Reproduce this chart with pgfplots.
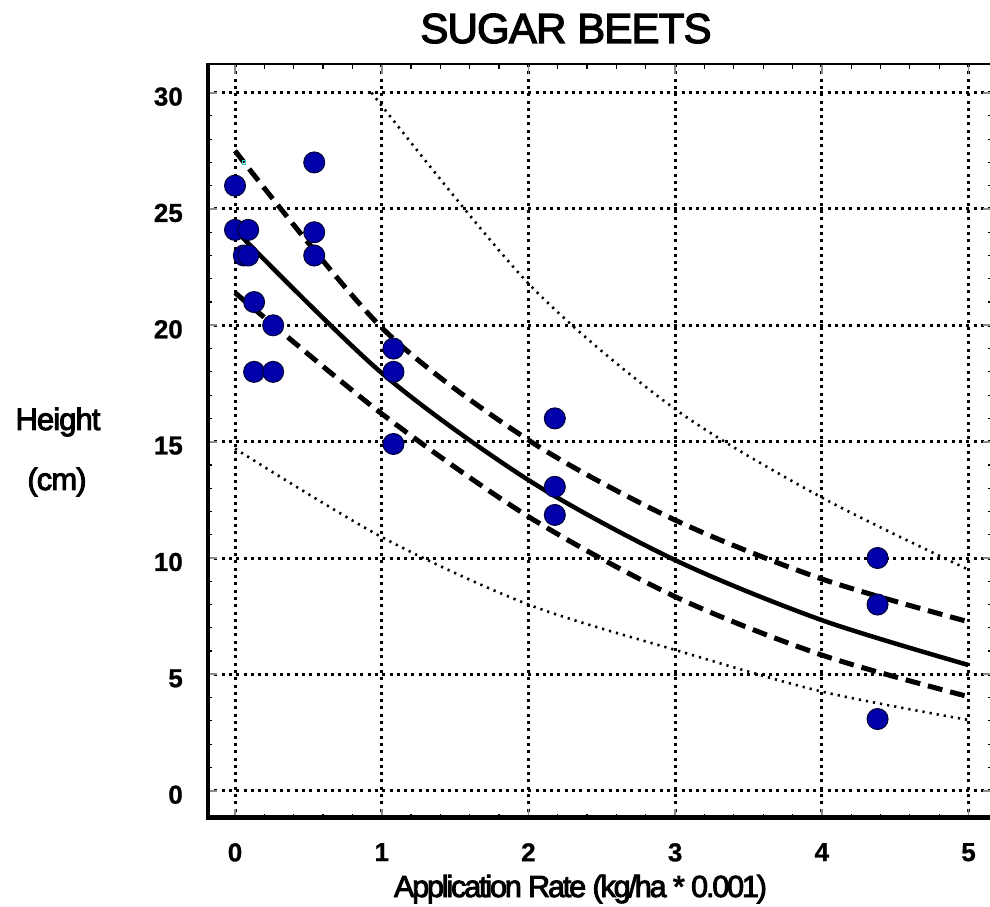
\documentclass[border=0pt]{standalone}
\usepackage{pgfplots}
\pgfplotsset{compat=1.18}
\usepackage{fontspec}
\setmainfont{Liberation Sans}
\newfontfamily\heavyfont[FakeBold=3]{Liberation Sans}
\newfontfamily\tickfont[FakeBold=0.8]{Liberation Sans Bold}

\definecolor{dotblue}{RGB}{0,0,170}
\definecolor{edgeblue}{RGB}{0,0,50}
\definecolor{tickgray}{RGB}{140,140,140}
\definecolor{oddcyan}{RGB}{60,200,200}

\begin{document}
\begin{tikzpicture}
\begin{axis}[
  at={(0pt,0pt)}, anchor=south west,
  scale only axis, width=786pt, height=755pt,
  xmin=-0.191, xmax=5.167, ymin=-1.216, ymax=31.23,
  xtick={0,1,2,3,4,5}, ytick={0,5,10,15,20,25,30},
  minor x tick num=4, minor y tick num=4,
  tick align=inside,
  major tick length=10pt, minor tick length=5pt,
  every major tick/.style={tickgray, line width=1.8pt},
  every minor tick/.style={black, line width=1.2pt},
  grid=major,
  major grid style={black, line width=3pt, dash pattern=on 3pt off 4.3pt},
  axis line style={black, line width=1.2pt},
  /pgf/number format/assume math mode=true,
  ticklabel style={font=\fontsize{26}{26}\selectfont\tickfont},
  xticklabel style={anchor=north, inner sep=0pt, yshift=-24pt},
  yticklabel style={anchor=east, inner sep=0pt, xshift=-24pt, yshift=-4pt},
]
% prediction band (dotted)
\addplot[black, line width=2.6pt, dash pattern=on 2.2pt off 5pt, smooth]
  coordinates {(0.93,30) (2,21.8) (3,16.4) (4,12.6) (5,9.5)};
\addplot[black, line width=2.6pt, dash pattern=on 2.2pt off 5pt, smooth]
  coordinates {(0,14.7) (1,10.9) (2,8.0) (3,6.05) (4,4.26) (5,3.04)};
% confidence band (dashed)
\addplot[black, line width=5pt, dash pattern=on 15pt off 8pt, smooth]
  coordinates {(0,27.5) (1,19.9) (2,15.07) (3,11.63) (4,9.1) (5,7.26)};
\addplot[black, line width=5pt, dash pattern=on 15pt off 8pt, smooth]
  coordinates {(0,21.4) (1,16.2) (2,11.78) (3,8.34) (4,5.83) (5,4.04)};
% fitted curve
\addplot[black, line width=4.5pt, smooth]
  coordinates {(0,24.1) (1,17.95) (2,13.35) (3,9.91) (4,7.33) (5,5.4)};
% observations
\addplot[only marks, mark=*, mark size=10.5pt,
  mark options={fill=dotblue, draw=edgeblue, line width=1pt}]
  coordinates {
    (0,26) (0,24.1) (0.09,24.1) (0.06,23) (0.09,23)
    (0.13,21) (0.13,18) (0.26,20) (0.26,18)
    (0.54,27) (0.54,24) (0.54,23)
    (1.08,19) (1.08,18) (1.08,14.9)
    (2.18,16) (2.18,13.06) (2.18,11.85)
    (4.38,10) (4.38,8) (4.38,3.08)};
\addplot[only marks, mark=square, mark size=1.6pt,
  mark options={draw=oddcyan, line width=0.8pt}]
  coordinates {(0.063,27)};
% heavy left and bottom frame
\draw[line width=7pt, line join=miter, line cap=butt]
  (rel axis cs:0,1) -- (rel axis cs:0,0) -- (rel axis cs:1,0);
\end{axis}

\node[anchor=base, font=\fontsize{42}{42}\selectfont\heavyfont\addfontfeature{LetterSpace=-2}] at (359pt,776pt) {SUGAR BEETS};
\node[anchor=base, font=\fontsize{30.5}{30.5}\selectfont\heavyfont\addfontfeature{LetterSpace=-7}]
  at (373.5pt,-78pt) {Application Rate (kg/ha * 0.001)};
\node[anchor=base, font=\fontsize{31}{31}\selectfont\heavyfont\addfontfeature{LetterSpace=-3}] at (-149pt,389pt) {Height};
\node[anchor=base, font=\fontsize{31}{31}\selectfont\heavyfont\addfontfeature{LetterSpace=-3}] at (-150pt,329pt) {(cm)};

\pgfresetboundingbox
\useasboundingbox (-207pt,-88pt) rectangle (783pt,819pt);
\end{tikzpicture}
\end{document}
